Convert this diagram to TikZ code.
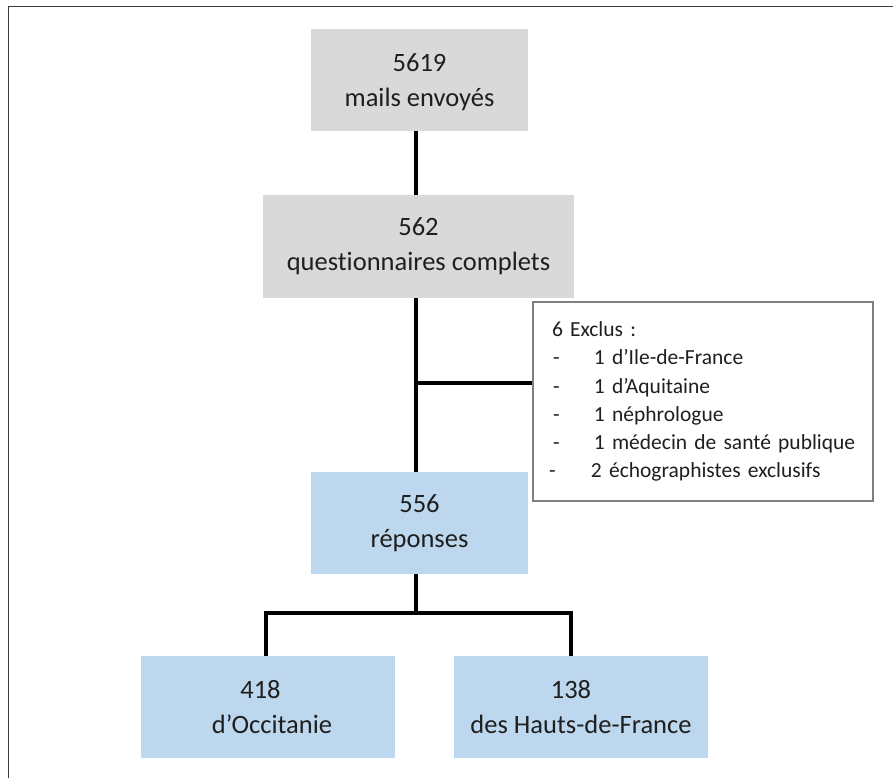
\documentclass[tikz,border=0pt]{standalone}
\usepackage{fontspec}
\setmainfont{Carlito}[Ligatures=NoCommon]
\definecolor{boxgray}{HTML}{D9D9D9}
\definecolor{boxblue}{HTML}{BDD7EE}
\definecolor{bordergray}{HTML}{7F7F7F}
\definecolor{txt}{HTML}{1F1F1F}
\definecolor{framecol}{HTML}{3A3A3A}
\begin{document}
\begin{tikzpicture}[x=1pt,y=-1pt,
  box/.style={inner sep=0pt, align=center, text=txt,
    font=\fontsize{26.5pt}{35pt}\selectfont},
  graybox/.style={box, fill=boxgray},
  bluebox/.style={box, fill=boxblue},
  exclbox/.style={draw=bordergray, line width=2pt, fill=white, text=txt,
    inner xsep=20pt, inner ysep=0pt, text width=300pt, align=left,
    minimum width=340pt, minimum height=199pt,
    font=\fontsize{21.5pt}{28.2pt}\selectfont},
  conn/.style={line width=3.2pt, black},
  framestyle/.style={line width=1.5pt, framecol}
]
\useasboundingbox (0,0) rectangle (893,778);
\fill[white] (0,0) rectangle (893,778);
\draw[framestyle] (8.5,778) -- (8.5,6.5) -- (893,6.5);

\node[graybox, minimum width=217pt, minimum height=102pt] (b1) at (419.5,80) {\rule{0pt}{23pt}5619\\mails envoyés};
\node[graybox, minimum width=311pt, minimum height=103pt] (b2) at (418.5,246.5) {562\\questionnaires complets};
\node[bluebox, minimum width=217pt, minimum height=102pt] (b3) at (419.5,523) {556\\réponses};
\node[bluebox, minimum width=254pt, minimum height=102pt] (b4) at (268,707) {418\hspace*{15pt}\\\hspace*{8pt}d’Occitanie};
\node[bluebox, minimum width=254pt, minimum height=102pt] (b5) at (581,707) {138\hspace*{20pt}\\des Hauts-de-France};
\node[exclbox] (excl) at (703,401.5) {%
\mbox{\hspace*{-1pt}6 Exclus :}\\
\mbox{\makebox[41pt][l]{-}1 d’Ile-de-France}\\
\mbox{\makebox[41pt][l]{-}1 d’Aquitaine}\\
\mbox{\makebox[41pt][l]{-}1 néphrologue}\\
\mbox{\makebox[41pt][l]{-}1 médecin de santé publique}\\
\mbox{\hspace*{-4pt}\makebox[42pt][l]{-}2 échographistes exclusifs}};

\coordinate (j1) at (416,383);
\coordinate (j2) at (416,613);
\coordinate (l4) at (266,613);
\coordinate (l5) at (571,613);

\draw[conn] (b1.south -| j1) -- (b2.north -| j1);
\draw[conn] (b2.south -| j1) -- (b3.north -| j1);
\draw[conn] (j1) -- (j1 -| excl.west);
\draw[conn] (b3.south -| j2) -- (j2);
\draw[conn] (b4.north -| l4) -- (l4) -- (l5) -- (b5.north -| l5);
\end{tikzpicture}
\end{document}
